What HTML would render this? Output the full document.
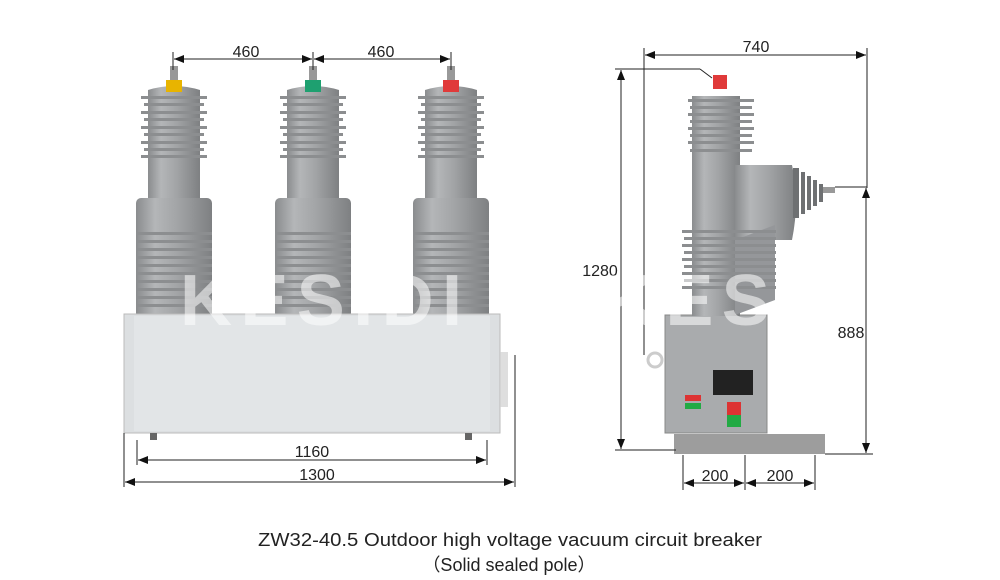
<!DOCTYPE html>
<html><head><meta charset="utf-8"><style>
html,body{margin:0;padding:0;background:#fff;}
svg{display:block;font-family:"Liberation Sans",Arial,sans-serif;}
</style></head><body>
<svg width="1000" height="580" viewBox="0 0 1000 580" xmlns="http://www.w3.org/2000/svg">
<defs>
<linearGradient id="gp" x1="0" x2="1" y1="0" y2="0">
<stop offset="0" stop-color="#8a8c8e"/><stop offset="0.25" stop-color="#b4b6b8"/><stop offset="0.55" stop-color="#a2a4a6"/><stop offset="1" stop-color="#7e8082"/>
</linearGradient>
<marker id="ah" markerWidth="10" markerHeight="8" refX="10" refY="4" orient="auto-start-reverse" markerUnits="userSpaceOnUse">
<path d="M0,0 L10,4 L0,8 z" fill="#111"/>
</marker>
<g id="pole">
<rect x="-4" y="-4" width="8" height="14" fill="#999"/>
<rect x="-26" y="88" width="52" height="110" fill="url(#gp)"/>
<path d="M-26,20 Q0,12 26,20 L26,88 L-26,88 z" fill="url(#gp)"/>
<g fill="#8c8e90">
<rect x="-33" y="26" width="66" height="3"/><rect x="-30" y="33" width="60" height="3"/>
<rect x="-33" y="41" width="66" height="3"/><rect x="-30" y="48" width="60" height="3"/>
<rect x="-33" y="56" width="66" height="3"/><rect x="-30" y="63" width="60" height="3"/>
<rect x="-33" y="71" width="66" height="3"/><rect x="-30" y="78" width="60" height="3"/>
<rect x="-33" y="85" width="66" height="3"/>
</g>
<rect x="-38" y="128" width="76" height="120" rx="5" fill="url(#gp)"/>
<g fill="#8c8e90">
<rect x="-38" y="162" width="76" height="3"/><rect x="-38" y="170" width="76" height="3"/>
<rect x="-38" y="178" width="76" height="3"/><rect x="-38" y="186" width="76" height="3"/>
<rect x="-38" y="194" width="76" height="3"/><rect x="-38" y="202" width="76" height="3"/>
<rect x="-38" y="210" width="76" height="3"/><rect x="-38" y="218" width="76" height="3"/>
<rect x="-38" y="226" width="76" height="3"/><rect x="-38" y="234" width="76" height="3"/>
</g>
</g>
</defs>

<g transform="translate(174,70)"><use href="#pole"/><rect x="-8" y="10" width="16" height="12" fill="#e8b400"/></g>
<g transform="translate(313,70)"><use href="#pole"/><rect x="-8" y="10" width="16" height="12" fill="#1ea070"/></g>
<g transform="translate(451,70)"><use href="#pole"/><rect x="-8" y="10" width="16" height="12" fill="#e03a3a"/></g>

<rect x="124" y="314" width="376" height="119" fill="#dcdfe1" stroke="#bbb"/>
<rect x="134" y="316" width="356" height="115" fill="#e2e5e7"/>
<rect x="150" y="433" width="7" height="7" fill="#666"/>
<rect x="465" y="433" width="7" height="7" fill="#666"/>
<rect x="500" y="352" width="8" height="55" fill="#d0d0d0" opacity="0.7"/>

<g stroke="#222" stroke-width="1" fill="none">
<line x1="173" y1="52" x2="173" y2="70"/><line x1="313" y1="52" x2="313" y2="70"/><line x1="451" y1="52" x2="451" y2="70"/>
<line x1="174" y1="59" x2="312" y2="59" marker-start="url(#ah)" marker-end="url(#ah)"/>
<line x1="314" y1="59" x2="450" y2="59" marker-start="url(#ah)" marker-end="url(#ah)"/>
<line x1="137" y1="440" x2="137" y2="465"/><line x1="487" y1="440" x2="487" y2="465"/>
<line x1="138" y1="460" x2="486" y2="460" marker-start="url(#ah)" marker-end="url(#ah)"/>
<line x1="124" y1="433" x2="124" y2="487"/><line x1="515" y1="355" x2="515" y2="487"/>
<line x1="125" y1="482" x2="514" y2="482" marker-start="url(#ah)" marker-end="url(#ah)"/>
</g>
<g font-size="16" fill="#222" text-anchor="middle">
<text x="246" y="57">460</text><text x="381" y="57">460</text>
<text x="312" y="457">1160</text><text x="317" y="480">1300</text>
</g>

<rect x="674" y="434" width="151" height="20" fill="#9d9d9d"/>
<rect x="665" y="315" width="102" height="118" fill="#a9abad" stroke="#888"/>
<rect x="692" y="96" width="48" height="220" fill="url(#gp)"/>
<path d="M735,165 L792,165 Q800,200 792,240 L735,240 z" fill="url(#gp)"/>
<g fill="#6e7072">
<rect x="793" y="168" width="6" height="50"/><rect x="801" y="172" width="4" height="42"/><rect x="807" y="176" width="4" height="34"/><rect x="813" y="180" width="4" height="26"/><rect x="819" y="184" width="4" height="18"/>
</g>
<rect x="823" y="187" width="12" height="6" fill="#999"/>
<g fill="#8c8e90">
<rect x="688" y="99" width="66" height="3"/><rect x="690" y="106" width="62" height="3"/><rect x="688" y="113" width="66" height="3"/><rect x="690" y="120" width="62" height="3"/><rect x="688" y="127" width="66" height="3"/><rect x="690" y="134" width="62" height="3"/><rect x="688" y="141" width="66" height="3"/><rect x="690" y="149" width="62" height="3"/>
</g>
<path d="M735,240 L775,225 L775,300 L735,315 z" fill="#95979a"/>
<g fill="#8c8e90">
<rect x="682" y="230" width="94" height="3"/><rect x="684" y="237" width="92" height="3"/><rect x="682" y="244" width="94" height="3"/><rect x="684" y="251" width="92" height="3"/><rect x="682" y="258" width="94" height="3"/><rect x="684" y="265" width="92" height="3"/><rect x="682" y="272" width="94" height="3"/><rect x="684" y="279" width="92" height="3"/><rect x="682" y="286" width="94" height="3"/>
</g>
<rect x="713" y="75" width="14" height="14" fill="#e03a3a"/>
<rect x="713" y="370" width="40" height="25" fill="#222"/>
<rect x="685" y="395" width="16" height="6" fill="#d33"/><rect x="685" y="403" width="16" height="6" fill="#2a4"/>
<rect x="727" y="402" width="14" height="13" fill="#d33"/><rect x="727" y="415" width="14" height="12" fill="#2a4"/>
<circle cx="655" cy="360" r="7" fill="none" stroke="#ccc" stroke-width="3"/>
<g stroke="#222" stroke-width="1" fill="none">
<line x1="644" y1="48" x2="644" y2="355"/><line x1="867" y1="48" x2="867" y2="188"/>
<line x1="645" y1="55" x2="866" y2="55" marker-start="url(#ah)" marker-end="url(#ah)"/>
<line x1="615" y1="69" x2="700" y2="69"/><line x1="700" y1="69" x2="712" y2="78"/>
<line x1="615" y1="450" x2="676" y2="450"/>
<line x1="621" y1="70" x2="621" y2="449" marker-start="url(#ah)" marker-end="url(#ah)"/>
<line x1="835" y1="187" x2="867" y2="187"/>
<line x1="825" y1="454" x2="873" y2="454"/>
<line x1="866" y1="188" x2="866" y2="453" marker-start="url(#ah)" marker-end="url(#ah)"/>
<line x1="683" y1="455" x2="683" y2="490"/><line x1="745" y1="455" x2="745" y2="490"/><line x1="815" y1="455" x2="815" y2="490"/>
<line x1="684" y1="483" x2="744" y2="483" marker-start="url(#ah)" marker-end="url(#ah)"/>
<line x1="746" y1="483" x2="814" y2="483" marker-start="url(#ah)" marker-end="url(#ah)"/>
</g>
<g font-size="16" fill="#222" text-anchor="middle">
<text x="756" y="52">740</text><text x="600" y="276">1280</text><text x="851" y="338">888</text>
<text x="715" y="481">200</text><text x="780" y="481">200</text>
</g>

<g font-size="72" font-weight="bold" fill="#fff" opacity="0.55">
<text x="180" y="325" textLength="282" lengthAdjust="spacing">KESIDI</text>
<text x="605" y="325" textLength="282" lengthAdjust="spacing">KESIDI</text>
</g>

<text x="510" y="546" font-size="18" fill="#222" text-anchor="middle" textLength="504" lengthAdjust="spacingAndGlyphs">ZW32-40.5 Outdoor high voltage vacuum circuit breaker</text>
<text x="509" y="571" font-size="18" fill="#222" text-anchor="middle">（Solid sealed pole）</text>
</svg>
</body></html>
